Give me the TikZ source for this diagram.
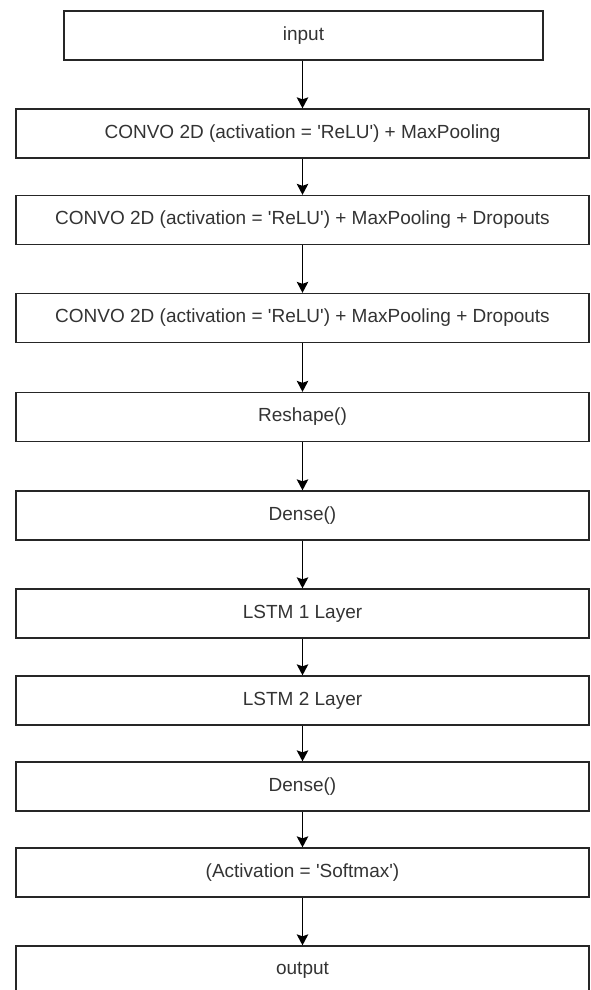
\documentclass[tikz,border=0pt]{standalone}
\usepackage{fontspec}
\setmainfont{Liberation Sans}
\usetikzlibrary{arrows.meta}
\newcommand{\sq}{\textquotesingle}
\tikzset{
  layerbox/.style={draw=black!85, line width=1.3pt, rectangle, inner sep=0pt,
    minimum height=49pt, minimum width=573pt, text=black!80,
    font=\fontsize{19pt}{22pt}\selectfont},
  flowarrow/.style={draw=black, line width=1.4pt,
    -{Stealth[length=11pt,width=11.5pt,inset=2pt]}}
}
\begin{document}
\begin{tikzpicture}[x=1pt,y=1pt]
\useasboundingbox (0,0) rectangle (590,-990);
\begin{scope}
\clip (0,0) rectangle (590,-990);
\node[layerbox, minimum width=479pt] (in) at (303.5,-35.5) {input};
\node[layerbox] (c1) at (302.5,-133.5) {CONVO 2D (activation = \sq ReLU\sq) + MaxPooling};
\node[layerbox] (c2) at (302.5,-220) {CONVO 2D (activation = \sq ReLU\sq) + MaxPooling + Dropouts};
\node[layerbox] (c3) at (302.5,-318) {CONVO 2D (activation = \sq ReLU\sq) + MaxPooling + Dropouts};
\node[layerbox] (rs) at (302.5,-417) {Reshape()};
\node[layerbox] (d1) at (302.5,-515.5) {Dense()};
\node[layerbox] (l1) at (302.5,-613.5) {LSTM 1 Layer};
\node[layerbox] (l2) at (302.5,-700.5) {LSTM 2 Layer};
\node[layerbox] (d2) at (302.5,-786.5) {Dense()};
\node[layerbox] (sm) at (302.5,-872.5) {(Activation = \sq Softmax\sq)};
\node[layerbox] (out) at (302.5,-970.5) {output};
\draw[flowarrow] (in.south -| c1.north) -- (c1.north);
\draw[flowarrow] (c1) -- (c2);
\draw[flowarrow] (c2) -- (c3);
\draw[flowarrow] (c3) -- (rs);
\draw[flowarrow] (rs) -- (d1);
\draw[flowarrow] (d1) -- (l1);
\draw[flowarrow] (l1) -- (l2);
\draw[flowarrow] (l2) -- (d2);
\draw[flowarrow] (d2) -- (sm);
\draw[flowarrow] (sm) -- (out);
\end{scope}
\end{tikzpicture}
\end{document}
